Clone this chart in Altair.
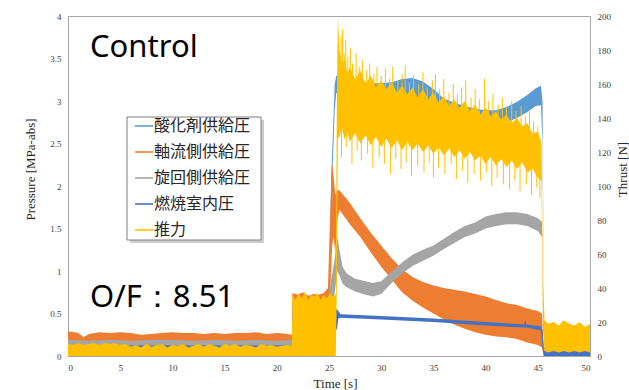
import altair as alt
import pandas as pd

SERIES = ["酸化剤供給圧", "軸流側供給圧", "旋回側供給圧", "燃焼室内圧", "推力"]
COLORS = ["#5B9BD5", "#ED7D31", "#A5A5A5", "#4472C4", "#FFC000"]

# ---- 酸化剤供給圧 [MPa] ----
ox_t = [0, 21.45, 21.5, 24.9, 25.0, 25.2, 25.4, 25.55, 25.7, 26, 27, 28, 29, 30, 31, 32, 33, 34, 35,
        36, 37, 38, 39, 40, 41, 42, 43, 44, 44.8, 45.3, 45.45, 45.6, 50]
ox_lo = [.1, .1, .5, .5, .6, 1.8, 2.4, 2.9, 3.1, 3.05, 3.02, 3.0, 3.0, 3.0, 3.02, 3.05, 3.06, 3.03, 2.95,
         2.85, 2.8, 2.76, 2.73, 2.72, 2.72, 2.75, 2.8, 2.87, 2.94, 2.95, 2.5, .02, .02]
ox_hi = [.15, .15, .6, .6, .8, 2.1, 2.7, 3.2, 3.3, 3.28, 3.24, 3.22, 3.21, 3.21, 3.22, 3.26, 3.27, 3.23, 3.14,
         3.03, 2.98, 2.94, 2.91, 2.89, 2.89, 2.93, 2.99, 3.07, 3.15, 3.18, 3.0, .1, .1]

# ---- 軸流側供給圧 [MPa] ----
ax_t = [0, 1, 1.5, 2, 3, 4, 5, 6, 7, 8, 9, 10, 11, 12, 13, 14, 15, 16, 17, 18, 19, 20, 21, 21.45,
        21.5, 22, 22.5, 23, 23.5, 24, 24.5, 24.9, 25.1, 25.3, 25.45, 25.6, 25.8, 26, 27, 28, 29, 30,
        31, 32, 33, 34, 35, 36, 37, 38, 39, 40, 41, 42, 43, 44, 45, 45.4, 45.55, 50]
ax_hi = [.29, .27, .22, .26, .28, .27, .28, .27, .25, .26, .27, .28, .27, .27, .26, .27, .26, .27, .27, .28,
         .26, .27, .26, .25,
         .74, .72, .75, .71, .73, .72, .74, .8, 1.6, 2.27, 2.1, 1.9, 1.95, 1.95, 1.8, 1.62, 1.45, 1.3,
         1.15, 1.02, .93, .87, .83, .8, .78, .76, .73, .7, .66, .62, .6, .56, .53, .5, .08, .08]
ax_lo = [.16, .16, .15, .16, .16, .16, .16, .16, .16, .16, .16, .16, .16, .16, .16, .16, .16, .16, .16, .16,
         .16, .16, .16, .16,
         .5, .5, .5, .5, .5, .5, .5, .5, .7, 1.3, 1.4, 1.2, 1.6, 1.72, 1.55, 1.4, 1.22, 1.05,
         .9, .75, .65, .57, .5, .43, .37, .32, .28, .25, .23, .22, .2, .16, .13, .1, 0, 0]

# ---- 旋回側供給圧 [MPa] ----
sw_t = [0, 2, 4, 6, 8, 10, 12, 14, 16, 18, 20, 21.45, 21.5, 24.9, 25.2, 25.5, 25.8, 26.0, 26.3, 26.7,
        27.5, 28.5, 29.2, 30, 31, 32, 33, 34, 35, 36, 37, 38, 39, 40, 41, 42, 43, 44, 45, 45.4, 45.55, 50]
sw_hi = [.19, .18, .19, .18, .19, .19, .18, .19, .18, .19, .18, .19, .6, .6, .9, 1.1, 1.4, 1.25, 1.05, .97,
         .91, .88, .86, .88, .99, 1.1, 1.19, 1.25, 1.3, 1.38, 1.46, 1.53, 1.57, 1.64, 1.67, 1.69, 1.69,
         1.67, 1.62, 1.58, .06, .06]
sw_lo = [.12, .12, .12, .12, .12, .12, .12, .12, .12, .12, .12, .12, .45, .45, .6, .7, 1.0, .95, .85, .81,
         .76, .72, .70, .73, .86, .97, 1.06, 1.12, 1.18, 1.26, 1.33, 1.40, 1.44, 1.5, 1.53, 1.55, 1.55,
         1.53, 1.47, 1.4, 0, 0]

# ---- 燃焼室内圧 [MPa] ----
ch_t = [0, 3, 5.5, 6, 9, 12, 15, 18, 21, 21.45, 21.5, 25.5, 25.75, 25.9, 26.1, 30, 35, 40, 43.7, 43.8,
        43.9, 45.3, 45.45, 45.6, 50]
ch_lo = [.07, .07, .07, .09, .09, .09, .09, .09, .09, .09, .4, .4, .3, .44, .45, .43, .40, .36, .335, .335,
         .335, .3, .1, 0, 0]
ch_hi = [.1, .1, .1, .125, .125, .125, .125, .125, .125, .125, .55, .55, .55, .53, .49, .47, .44, .40, .37,
         .42, .37, .35, .3, .06, .06]

# ---- 推力 [N] ----
th_t = [0, 0.5, 1, 1.5, 2, 2.5, 3, 3.5, 4, 4.5, 5, 5.5, 6, 6.5, 7, 7.5, 8, 8.5, 9, 9.5, 10, 10.5, 11,
        11.5, 12, 12.5, 13, 13.5, 14, 14.5, 15, 15.5, 16, 16.5, 17, 17.5, 18, 18.5, 19, 19.5, 20, 20.5,
        21, 21.45,
        21.5, 21.8, 22.1, 22.4, 22.7, 23.0, 23.3, 23.6, 23.9, 24.2, 24.5, 24.8, 25.1, 25.4, 25.65,
        25.75, 25.85, 26.0, 26.25, 26.5, 26.75, 27.0,
        27.5, 28, 28.5, 29, 29.5, 30, 30.5, 31, 31.5, 32, 32.5, 33, 33.5, 34, 34.5, 35, 35.5, 36,
        36.5, 37, 37.5, 38, 38.5, 39, 39.5, 40, 40.5, 41, 41.5, 42, 42.5, 43, 43.5, 44, 44.5, 45,
        45.35,
        45.5, 45.65, 46, 46.5, 47, 47.5, 48, 48.5, 49, 49.5, 50]
th_hi = [7, 6.5, 7.5, 6.5, 7, 7.5, 6.5, 7.5, 7, 7.5, 6.5, 7, 5.5, 6.5, 5, 7, 5.5, 6.5, 7, 5, 6.5, 6, 7,
         5, 6, 7, 5.5, 7, 6, 5, 7, 6, 7, 5.5, 6.5, 6, 5, 7, 6, 6.5, 5.5, 6, 6.5, 6,
         36, 33, 37, 34, 38, 33, 36, 35, 37, 33, 36, 34, 37, 35, 36,
         150, 200, 180, 170, 175, 166, 170,
         163, 168, 160, 165, 158, 162, 157, 161, 155, 159, 154, 158, 152, 157, 151, 155, 149, 153,
         147, 151, 146, 150, 144, 148, 142, 146, 141, 144, 139, 142, 137, 140, 135, 137, 131, 132,
         126,
         45, 21, 19, 20, 18, 21, 19, 18, 20, 17, 19]
th_lo = [0] * 44 + [0] * 15 + [
    40, 128, 129, 134, 127, 132, 126,
    131, 125, 130, 124, 129, 123, 128, 122, 127, 121, 126, 121, 125, 120, 124, 119, 123, 118,
    122, 117, 121, 116, 120, 115, 118, 113, 117, 112, 116, 111, 115, 110, 114, 108, 110, 105,
    103,
    15, 3, 2, 3, 2, 3, 2, 3, 2, 3, 2]

# thrust noise spikes [N]: upward (top) and downward (bottom), each from a point inside the band
up_t = [26.15, 26.3, 26.45, 26.6, 26.8, 27.05, 27.25, 27.6, 27.9,
        28.2, 28.6, 28.9, 29.3, 29.6, 30.0, 30.4, 30.8, 31.1, 31.6,
        32.0, 32.3, 32.7, 33.1, 33.6, 34.0, 34.4, 34.9, 35.2, 35.6,
        36.0, 36.5, 36.9, 37.3, 37.7, 38.1, 38.6, 39.0, 39.4, 39.9,
        40.3, 40.7, 41.2, 41.6, 42.0, 42.5, 42.9,
        43.4, 43.8, 44.2, 44.6, 45.0]
up_top = [188, 192, 178, 186, 176, 181, 172, 178, 170,
          174, 168, 172, 166, 170, 165, 169, 163, 170, 162,
          166, 171, 161, 165, 160, 167, 158, 162, 166, 157,
          163, 155, 160, 154, 158, 162, 152, 157, 151, 163,
          150, 154, 148, 152, 146, 150, 144,
          147, 141, 145, 138, 135]
up_base = [160] * 9 + [152] * 10 + [146] * 10 + [140] * 10 + [134] * 7 + [126] * 4 + [122]
dn_t = [26.2, 26.7, 27.2, 27.7,
        28.1, 28.7, 29.2, 29.8, 30.3, 30.9, 31.4, 31.9,
        32.4, 32.9, 33.5, 34.1, 34.6, 35.0, 35.5,
        36.1, 36.7, 37.2, 37.8, 38.3, 38.9, 39.5,
        40.1, 40.6, 41.1, 41.7, 42.3, 42.8,
        43.3, 43.9, 44.4, 44.9, 45.2]
dn_bot = [117, 123, 113, 121,
          115, 119, 111, 117, 113, 107, 116, 110,
          114, 106, 112, 108, 114, 105, 111,
          107, 113, 104, 109, 102, 107, 103,
          108, 100, 105, 101, 98, 103,
          97, 101, 95, 99, 93]
dn_base = [136] * 4 + [130] * 8 + [127] * 7 + [122] * 7 + [118] * 6 + [113] * 4 + [110]


def band(t, lo, hi, name):
    return pd.DataFrame({"t": t, "lo": lo, "hi": hi, "series": name})


serif = "Liberation Serif"
X = alt.X("t:Q", scale=alt.Scale(domain=[0, 50], nice=False),
          axis=alt.Axis(values=list(range(0, 51, 5)), title="Time [s]", titleX=267, titleY=31,
                        titleBaseline="alphabetic", labelPadding=7, tickSize=0))

FILL = alt.Fill("series:N", scale=alt.Scale(domain=SERIES, range=COLORS), legend=None)
STROKE = alt.Stroke("series:N", scale=alt.Scale(domain=SERIES, range=COLORS), legend=None)

YP = dict(scale=alt.Scale(domain=[0, 4], nice=False),
          axis=alt.Axis(values=[0, .5, 1, 1.5, 2, 2.5, 3, 3.5, 4], format="~g",
                        title="Pressure [MPa-abs]", titleX=-38, titleY=153, titleAngle=270,
                        titleBaseline="middle", labelPadding=7, tickSize=0))
YT = dict(scale=alt.Scale(domain=[0, 200], nice=False),
          axis=alt.Axis(values=list(range(0, 201, 20)), orient="right", title="Thrust [N]",
                        titleX=32, titleY=153, titleAngle=270, titleBaseline="middle",
                        labelPadding=7, tickSize=0))


def parea(df):
    return alt.Chart(df).mark_area(strokeWidth=0).encode(
        x=X, y=alt.Y("lo:Q", **YP), y2="hi:Q", fill=FILL)


ox = parea(band(ox_t, ox_lo, ox_hi, SERIES[0]))
axl = parea(band(ax_t, ax_lo, ax_hi, SERIES[1]))
sw = parea(band(sw_t, sw_lo, sw_hi, SERIES[2]))
ch = parea(band(ch_t, ch_lo, ch_hi, SERIES[3]))

txt1 = alt.Chart(pd.DataFrame({"s": ["Control"]})).mark_text(
    font="Noto Sans", fontSize=31, align="left", baseline="alphabetic", color="#000000"
).encode(text="s:N", x=alt.value(22), y=alt.value(41))
txt2 = alt.Chart(pd.DataFrame({"s": ["O/F：8.51"]})).mark_text(
    font="Noto Sans", fontSize=31, align="left", baseline="alphabetic", color="#000000"
).encode(text="s:N", x=alt.value(22), y=alt.value(291))

pressure = alt.layer(ox, axl, sw, ch, txt1, txt2)

th = alt.Chart(band(th_t, th_lo, th_hi, SERIES[4])).mark_area(strokeWidth=0).encode(
    x=X, y=alt.Y("lo:Q", **YT), y2="hi:Q", fill=FILL)
ups = alt.Chart(pd.DataFrame({"t": up_t, "a": up_base, "b": up_top, "series": SERIES[4]})).mark_rule(
    strokeWidth=1).encode(x=X, y=alt.Y("a:Q", **YT), y2="b:Q", stroke=STROKE)
dns = alt.Chart(pd.DataFrame({"t": dn_t, "a": dn_base, "b": dn_bot, "series": SERIES[4]})).mark_rule(
    strokeWidth=1).encode(x=X, y=alt.Y("a:Q", **YT), y2="b:Q", stroke=STROKE)
thrust = alt.layer(th, ups, dns)

# ---- legend box (drawn by hand: line symbols + labels) ----
one = pd.DataFrame({"k": [0]})
leg_layers = [
    alt.Chart(one).mark_rect(fill="#BFBFBF", opacity=0.8).encode(
        x=alt.value(62), x2=alt.value(196), y=alt.value(104), y2=alt.value(227)),
    alt.Chart(one).mark_rect(fill="white", stroke="#7F7F7F", strokeWidth=1).encode(
        x=alt.value(59), x2=alt.value(193), y=alt.value(101), y2=alt.value(224)),
]
for i, (name, col) in enumerate(zip(SERIES, COLORS)):
    yy = 110 + 26 * i
    d = pd.DataFrame({"s": [name]})
    leg_layers.append(alt.Chart(d).mark_rule(color=col, strokeWidth=1.6).encode(
        x=alt.value(67), x2=alt.value(85), y=alt.value(yy), y2=alt.value(yy)))
    leg_layers.append(alt.Chart(d).mark_text(
        font="Noto Sans CJK JP", fontSize=16, align="left", baseline="middle", color="#262626"
    ).encode(text="s:N", x=alt.value(86), y=alt.value(yy)))
legend_box = alt.layer(*leg_layers)

chart = alt.layer(pressure, thrust, legend_box).resolve_scale(y="independent").properties(
    width=522, height=340,
    autosize=alt.AutoSizeParams(type="none"),
    padding={"left": 68, "top": 16, "right": 39, "bottom": 34},
    background="white",
).configure_view(stroke="#A6A6A6", strokeWidth=1).configure_axis(
    labelFont=serif, labelFontSize=9, labelColor="#404040",
    titleFont=serif, titleFontSize=13, titleFontWeight="normal", titleColor="#262626",
    domainColor="#A6A6A6", tickColor="#A6A6A6", grid=False,
)

chart.save("out.html", embed_options={"renderer": "svg", "actions": False})
